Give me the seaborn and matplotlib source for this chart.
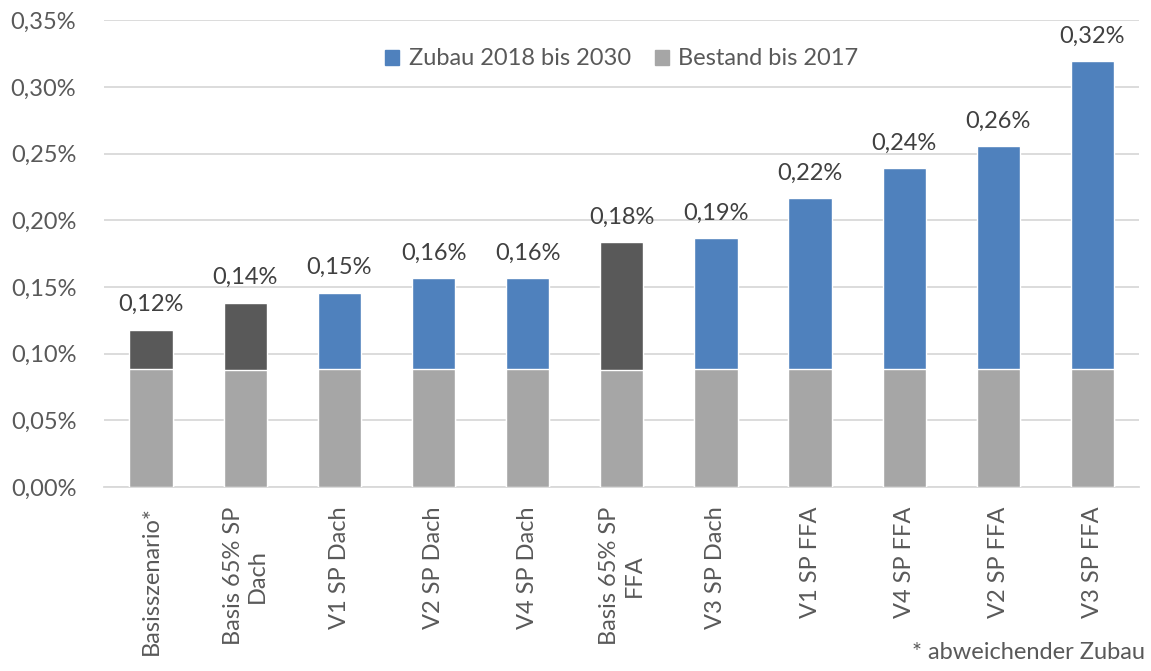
import numpy as np
import pandas as pd
import matplotlib
matplotlib.use('Agg')
import matplotlib.pyplot as plt
import seaborn as sns
from matplotlib.patches import Patch
from matplotlib.ticker import FuncFormatter

# Szenarien und Werte (in %)
szenarien = ['Basisszenario*', 'Basis 65% SP\nDach', 'V1 SP Dach', 'V2 SP Dach', 'V4 SP Dach',
             'Basis 65% SP\nFFA', 'V3 SP Dach', 'V1 SP FFA', 'V4 SP FFA', 'V2 SP FFA', 'V3 SP FFA']
bestand = [0.0885, 0.0880, 0.0885, 0.0885, 0.0885, 0.0880, 0.0885, 0.0885, 0.0885, 0.0885, 0.0885]
gesamt = [0.118, 0.138, 0.1455, 0.1565, 0.1565, 0.1835, 0.1865, 0.2165, 0.239, 0.2555, 0.319]
abweichend = [True, True, False, False, False, True, False, False, False, False, False]

BLAU = '#4F81BD'
DUNKEL = '#595959'
HELL = '#A6A6A6'
TEXT = '#595959'

sns.set_style('white')
plt.rcParams['font.family'] = ['Lato', 'DejaVu Sans']

df = pd.DataFrame({'szenario': szenarien, 'bestand': bestand, 'gesamt': gesamt})
farben = [DUNKEL if a else BLAU for a in abweichend]

fig = plt.figure(figsize=(11.51, 6.71), dpi=100)
ax = fig.add_axes([0.0904, 0.274, 0.8996, 0.696])

sns.barplot(data=df, x='szenario', y='gesamt', hue='szenario', palette=farben,
            width=0.46, legend=False, ax=ax, saturation=1, zorder=3)
sns.barplot(data=df, x='szenario', y='bestand', color=HELL,
            width=0.46, ax=ax, saturation=1, zorder=4)

for i, v in enumerate(gesamt):
    ax.text(i, v + 0.011, f'{v:.2f}%'.replace('.', ','), ha='center', va='bottom',
            fontsize=17, color='#404040')

ax.set_ylim(0, 0.35)
ax.set_xlim(-0.5, len(szenarien) - 0.5)
ax.set_yticks(np.arange(0, 0.351, 0.05))
ax.yaxis.set_major_formatter(FuncFormatter(lambda y, p: f'{y:.2f}%'.replace('.', ',')))
ax.grid(axis='y', color='#D9D9D9', linewidth=1.3, zorder=0)
ax.set_axisbelow(True)
for s in ['top', 'right', 'left']:
    ax.spines[s].set_visible(False)
ax.spines['bottom'].set_color('#D9D9D9')
ax.spines['bottom'].set_linewidth(1.3)
ax.tick_params(axis='y', labelsize=17, colors=TEXT, length=0, pad=20)
ax.tick_params(axis='x', labelsize=17, colors=TEXT, length=0, pad=14)
plt.setp(ax.get_xticklabels(), rotation=90, multialignment='center')
ax.set_xlabel('')
ax.set_ylabel('')

handles = [Patch(color=BLAU, label='Zubau 2018 bis 2030'),
           Patch(color=HELL, label='Bestand bis 2017')]
leg = ax.legend(handles=handles, loc='upper center', bbox_to_anchor=(0.5, 0.985), ncol=2,
                frameon=False, fontsize=17, handlelength=0.6, handleheight=0.6,
                handletextpad=0.4, columnspacing=1.0)
for t in leg.get_texts():
    t.set_color(TEXT)

fig.text(0.995, 0.012, '* abweichender Zubau', ha='right', va='bottom', fontsize=17, color=TEXT)

fig.savefig('out.png', dpi=100)
